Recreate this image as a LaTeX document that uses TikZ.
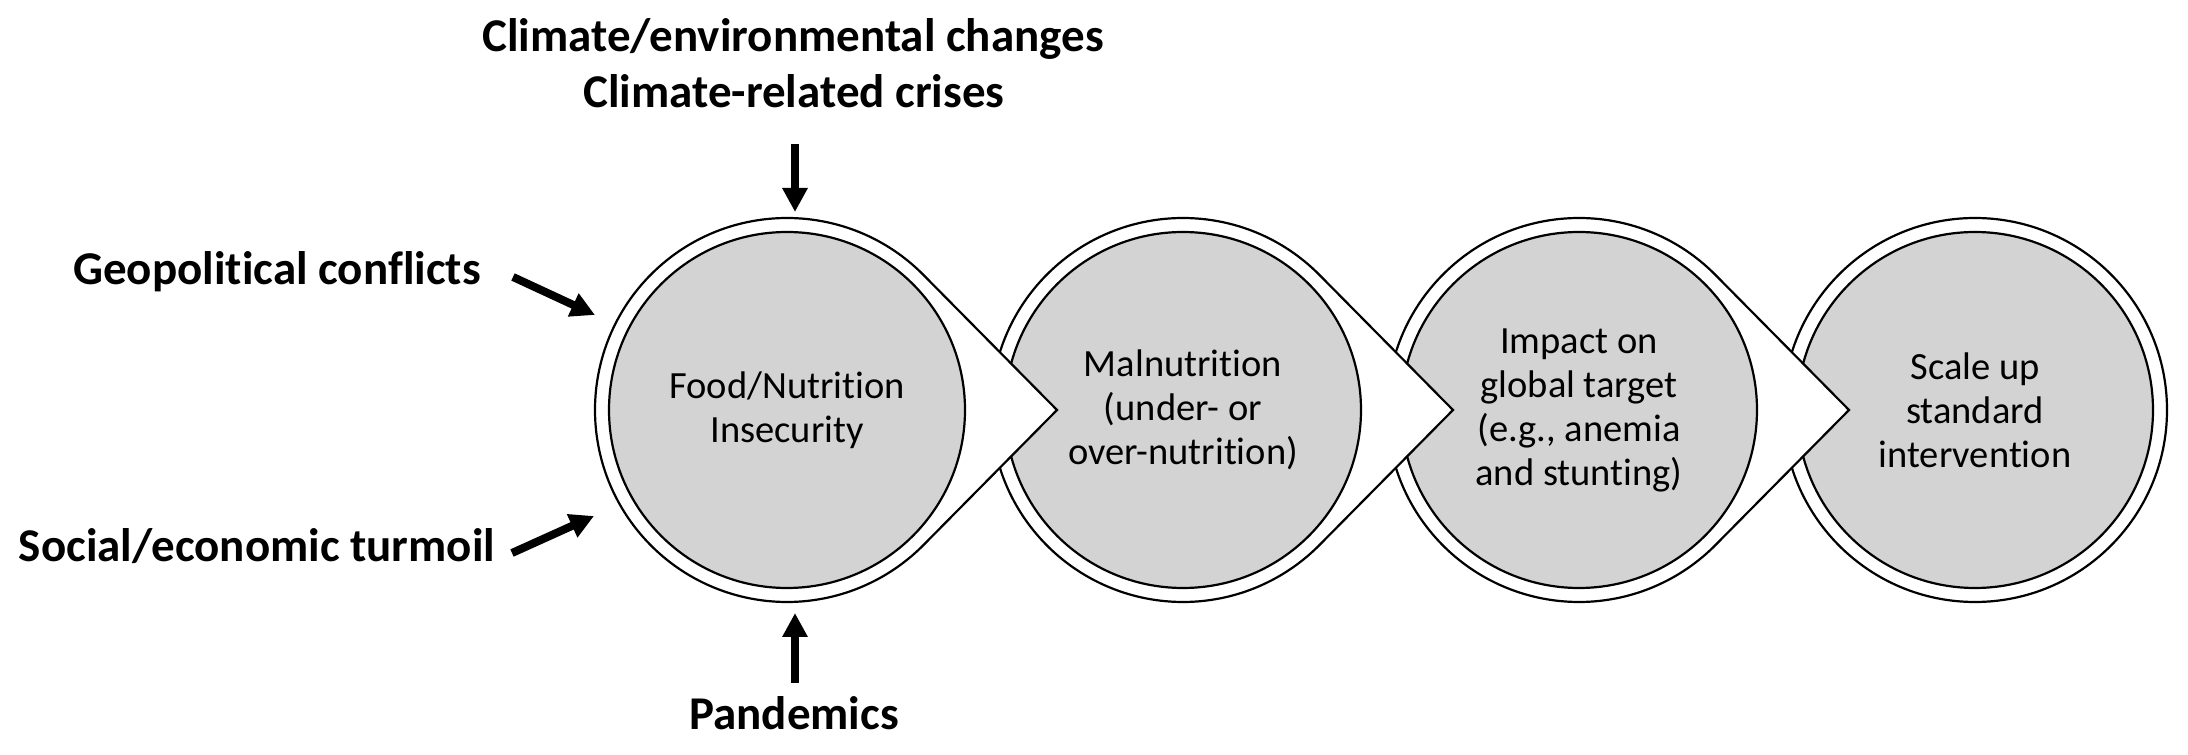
\documentclass[tikz,border=0pt]{standalone}
\usepackage{fontspec}
\setmainfont{Carlito}[Ligatures=NoCommon]
\usetikzlibrary{arrows.meta}
\definecolor{fillgray}{RGB}{211,211,211}
\newcommand\pointedshape[1]{\draw[outline] (#1+270,345) -- (#1+136.5,480) arc[start angle=44.68,end angle=315.32,radius=192] -- cycle;}
\begin{document}
\begin{tikzpicture}[x=1pt,y=1pt,
  outline/.style={draw=black,line width=2.2pt,fill=white},
  innerdisc/.style={circle,draw=black,line width=2.2pt,fill=fillgray,minimum size=356pt,inner sep=0pt,align=center,font=\fontsize{38.5}{44}\selectfont},
  cause/.style={font=\bfseries\fontsize{47}{56}\selectfont,anchor=base,inner sep=0pt},
  push/.style={line width=8pt,-{Triangle[length=24pt,width=24pt]}}]
\useasboundingbox (0,0) rectangle (2188,755);
% stages, drawn from right to left so that each tip overlaps the next stage
\draw[outline] (1975,345) circle[radius=192];
\node[innerdisc] (s4) at (1975,345) {Scale up\\standard\\intervention};
\pointedshape{1579}
\node[innerdisc] (s3) at (1579,345) {Impact on\\global target\\(e.g., anemia\\and stunting)};
\pointedshape{1183}
\node[innerdisc] (s2) at (1183,345) {Malnutrition\\(under- or\\over-nutrition)};
\pointedshape{787}
\node[innerdisc] (s1) at (787,345) {Food/Nutrition\\Insecurity};
% causes
\node[cause] (clim1) at (793,703) {Climate/environmental changes};
\node[cause] (clim2) at (794,647) {Climate-related crises};
\node[cause] (geo) at (277,470) {Geopolitical conflicts};
\node[cause] (soc) at (257,193) {Social/economic turmoil};
\node[cause] (pan) at (794,25) {Pandemics};
\coordinate (topS) at (795,611); \coordinate (topE) at (795,543);
\coordinate (botS) at (795,72);  \coordinate (botE) at (795,142);
\coordinate (geoS) at (513,478); \coordinate (geoE) at (595,440);
\coordinate (socS) at (512,202); \coordinate (socE) at (594,239);
\draw[push] (topS) -- (topE);
\draw[push] (botS) -- (botE);
\draw[push] (geoS) -- (geoE);
\draw[push] (socS) -- (socE);
\end{tikzpicture}
\end{document}
